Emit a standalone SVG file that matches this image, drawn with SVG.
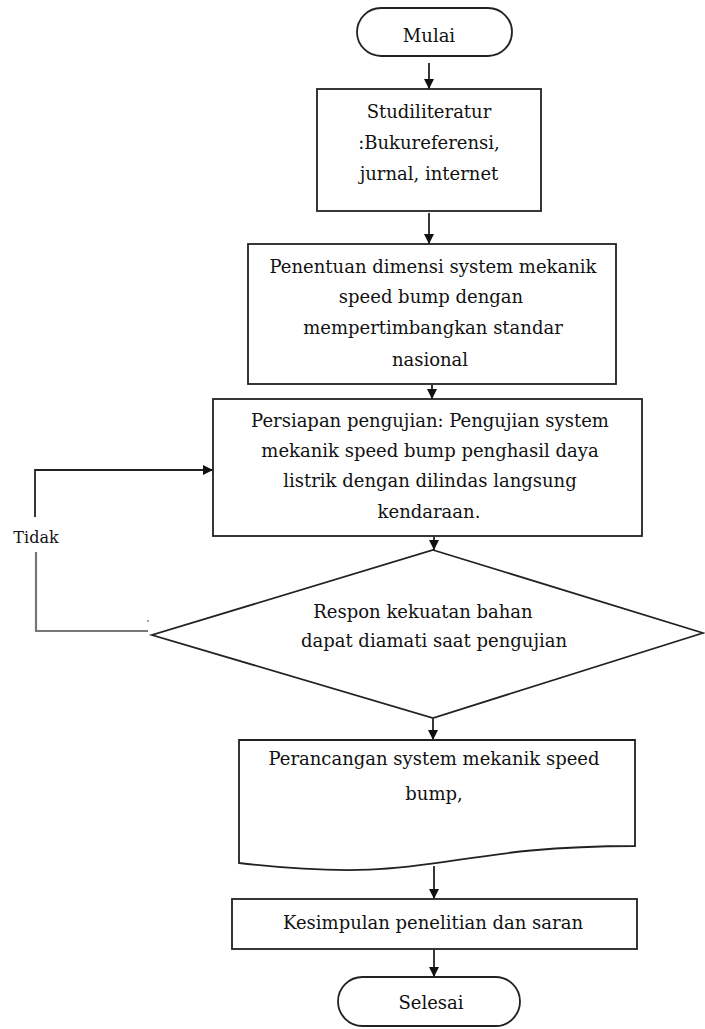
<svg xmlns="http://www.w3.org/2000/svg" width="705" height="1029" viewBox="0 0 705 1029">
<style>
.s{fill:#fff;stroke:#222;stroke-width:1.8}
.t{font-family:"DejaVu Serif","Liberation Serif",serif;font-size:18px;fill:#111;text-anchor:middle}
.c{fill:none;stroke:#222;stroke-width:1.8}
</style>
<defs>
<marker id="ah" viewBox="0 0 10 10" refX="10" refY="5" markerWidth="10" markerHeight="10" markerUnits="userSpaceOnUse" orient="auto">
<path d="M0,0 L10,5 L0,10 Z" fill="#111"/>
</marker>
</defs>
<rect width="705" height="1029" fill="#fff"/>
<g id="connectors">
<line class="c" x1="429" y1="63" x2="429" y2="89" marker-end="url(#ah)"/>
<line class="c" x1="429" y1="213" x2="429" y2="244" marker-end="url(#ah)"/>
<line class="c" x1="432" y1="385" x2="432" y2="399" marker-end="url(#ah)"/>
<line class="c" x1="434" y1="537" x2="434" y2="550" marker-end="url(#ah)"/>
<line class="c" x1="433" y1="719" x2="433" y2="740" marker-end="url(#ah)"/>
<line class="c" x1="434" y1="866" x2="434" y2="899" marker-end="url(#ah)"/>
<line class="c" x1="434" y1="950" x2="434" y2="977" marker-end="url(#ah)"/>
<polyline class="c" points="35,517 35,470 213,470" marker-end="url(#ah)"/>
<polyline fill="none" stroke="#777" stroke-width="2.2" points="36,552 36,631 148,631"/>
<circle cx="148" cy="621" r="0.9" fill="#777"/>
<text class="t" x="36" y="543" style="font-size:16px">Tidak</text>
</g>
<g id="mulai">
<rect class="s" x="357" y="8" width="155" height="48" rx="24"/>
<text class="t" x="429" y="42">Mulai</text>
</g>
<g id="studi">
<rect class="s" x="317" y="89" width="224" height="122"/>
<text class="t" x="429" y="118">Studiliteratur</text>
<text class="t" x="429" y="149">:Bukureferensi,</text>
<text class="t" x="429" y="180">jurnal, internet</text>
</g>
<g id="penentuan">
<rect class="s" x="248" y="244" width="368" height="140"/>
<text class="t" x="433" y="273">Penentuan dimensi system mekanik</text>
<text class="t" x="431" y="303">speed bump dengan</text>
<text class="t" x="433" y="334">mempertimbangkan standar</text>
<text class="t" x="430" y="366">nasional</text>
</g>
<g id="persiapan">
<rect class="s" x="213" y="399" width="429" height="137"/>
<text class="t" x="430" y="427">Persiapan pengujian: Pengujian system</text>
<text class="t" x="430" y="457">mekanik speed bump penghasil daya</text>
<text class="t" x="430" y="487">listrik dengan dilindas langsung</text>
<text class="t" x="429" y="518">kendaraan.</text>
</g>
<g id="respon">
<polygon class="s" points="433,550 703,633 433,718 152,635"/>
<text class="t" x="423" y="618">Respon kekuatan bahan</text>
<text class="t" x="434" y="647">dapat diamati saat pengujian</text>
</g>
<g id="perancangan">
<path class="s" d="M239,740 L635,740 L635,846 C437,846 437,886 239,863 Z"/>
<text class="t" x="434" y="765">Perancangan system mekanik speed</text>
<text class="t" x="434" y="800">bump,</text>
</g>
<g id="kesimpulan">
<rect class="s" x="232" y="899" width="405" height="50"/>
<text class="t" x="433" y="929">Kesimpulan penelitian dan saran</text>
</g>
<g id="selesai">
<rect class="s" x="338" y="977" width="182" height="49" rx="24.5"/>
<text class="t" x="431" y="1009">Selesai</text>
</g>
</svg>
